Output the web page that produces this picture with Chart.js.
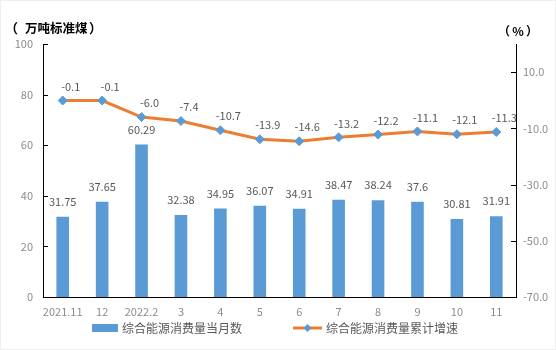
<!DOCTYPE html>
<html>
<head>
<meta charset="utf-8">
<script src="https://cdn.jsdelivr.net/npm/chart.js@4/dist/chart.umd.min.js"></script>
<style>
html,body{margin:0;padding:0;background:#fff;}
#wrap{width:556px;height:350px;position:relative;}
</style>
</head>
<body>
<div id="wrap"><canvas id="c" width="556" height="350"></canvas></div>
<script>
const categories = ['2021.11','12','2022.2','3','4','5','6','7','8','9','10','11'];
const monthlyConsumption = [31.75, 37.65, 60.29, 32.38, 34.95, 36.07, 34.91, 38.47, 38.24, 37.6, 30.81, 31.91];
const monthlyLabels = ['31.75','37.65','60.29','32.38','34.95','36.07','34.91','38.47','38.24','37.6','30.81','31.91'];
const cumulativeGrowth = [-0.1, -0.1, -6.0, -7.4, -10.7, -13.9, -14.6, -13.2, -12.2, -11.1, -12.1, -11.3];
const leftTicks = [0, 20, 40, 60, 80, 100];
const rightTicks = [-70, -50, -30, -10, 10];
const seriesNames = ['综合能源消费量当月数', '综合能源消费量累计增速'];
const leftUnit = '万吨标准煤';
const rightUnit = '%';

const BAR = '#5B9BD5', LINE = '#ED7D31';
const FONT = '"Noto Sans CJK SC", "Noto Sans", sans-serif';

const decor = {
  id: 'decor',
  beforeDraw(chart) {
    const ctx = chart.ctx;
    ctx.save();
    ctx.fillStyle = '#fff';
    ctx.fillRect(0, 0, chart.width, chart.height);
    ctx.strokeStyle = '#eeeeee';
    ctx.lineWidth = 1;
    ctx.strokeRect(0.5, 0.5, chart.width - 1, chart.height - 1);
    ctx.restore();
  },
  afterDraw(chart) {
    const ctx = chart.ctx;
    const ca = chart.chartArea;
    const ys = chart.scales.y, y1 = chart.scales.y1;
    ctx.save();
    // inward tick marks
    ctx.strokeStyle = '#000';
    ctx.lineWidth = 1;
    ys.ticks.forEach(t => {
      if (t.value === 0) return;
      const py = Math.round(ys.getPixelForValue(t.value)) + 0.5;
      ctx.beginPath(); ctx.moveTo(ca.left, py); ctx.lineTo(ca.left + 5, py); ctx.stroke();
    });
    y1.ticks.forEach(t => {
      if (t.value === -70) return;
      const py = Math.round(y1.getPixelForValue(t.value)) + 0.5;
      ctx.beginPath(); ctx.moveTo(ca.right, py); ctx.lineTo(ca.right - 5, py); ctx.stroke();
    });
    // unit titles
    ctx.fillStyle = '#000';
    ctx.textBaseline = 'middle';
    ctx.textAlign = 'left';
    ctx.font = 'bold 13px ' + FONT;
    ctx.fillText('（', 5, 28);
    ctx.fillText('）', 89, 28);
    ctx.font = 'bold 12.5px ' + FONT;
    ctx.fillText(leftUnit, 25, 28);
    ctx.font = 'bold 12px ' + FONT;
    ctx.fillText('（', 498, 31);
    ctx.textAlign = 'center';
    ctx.fillText(rightUnit, 518, 31);
    ctx.textAlign = 'left';
    ctx.fillText('）', 526, 31);
    // data labels
    ctx.font = '11px ' + FONT;
    ctx.fillStyle = '#595959';
    ctx.textAlign = 'center';
    const barMeta = chart.getDatasetMeta(0);
    barMeta.data.forEach((el, i) => {
      ctx.fillText(monthlyLabels[i], el.x, el.y - 15);
    });
    const lineMeta = chart.getDatasetMeta(1);
    lineMeta.data.forEach((el, i) => {
      ctx.fillText(cumulativeGrowth[i].toFixed(1), el.x + 8, el.y - 14);
    });
    // legend
    const ly = 328;
    ctx.fillStyle = BAR;
    ctx.fillRect(92, ly - 4, 26, 8);
    ctx.fillStyle = '#595959';
    ctx.font = '12px ' + FONT;
    ctx.textAlign = 'left';
    ctx.fillText(seriesNames[0], 122, ly);
    ctx.strokeStyle = LINE;
    ctx.lineWidth = 3;
    ctx.beginPath(); ctx.moveTo(293, ly); ctx.lineTo(322, ly); ctx.stroke();
    ctx.fillStyle = BAR;
    ctx.beginPath();
    ctx.moveTo(307.5, ly - 4); ctx.lineTo(311.5, ly); ctx.lineTo(307.5, ly + 4); ctx.lineTo(303.5, ly); ctx.closePath();
    ctx.fill();
    ctx.fillStyle = '#595959';
    ctx.fillText(seriesNames[1], 326, ly);
    ctx.restore();
  }
};

new Chart(document.getElementById('c'), {
  data: {
    labels: categories,
    datasets: [
      {
        type: 'bar',
        label: seriesNames[0],
        data: monthlyConsumption,
        backgroundColor: BAR,
        yAxisID: 'y',
        barPercentage: 0.32,
        categoryPercentage: 1.0,
        order: 2
      },
      {
        type: 'line',
        label: seriesNames[1],
        data: cumulativeGrowth,
        borderColor: LINE,
        borderWidth: 3,
        pointStyle: 'rectRot',
        pointRadius: 4.5,
        pointBackgroundColor: BAR,
        pointBorderColor: BAR,
        pointBorderWidth: 1,
        tension: 0,
        yAxisID: 'y1',
        order: 1
      }
    ]
  },
  options: {
    responsive: false,
    animation: false,
    devicePixelRatio: 1,
    layout: { padding: { top: 44, right: 0, left: 0, bottom: 0 } },
    plugins: { legend: { display: false }, tooltip: { enabled: false } },
    scales: {
      x: {
        grid: { display: false, drawTicks: false },
        border: { display: true, color: '#000', width: 1 },
        ticks: { color: '#8c8c8c', font: { family: FONT, size: 11 }, padding: 8, maxRotation: 0, autoSkip: false },
        afterFit(s) { s.height = 53; }
      },
      y: {
        position: 'left',
        min: 0, max: 100,
        grid: { display: false, drawTicks: false },
        border: { display: true, color: '#000', width: 1 },
        ticks: { stepSize: 20, color: '#8c8c8c', font: { family: FONT, size: 11 }, padding: 10 },
        afterBuildTicks(s) { s.ticks = leftTicks.map(v => ({ value: v })); },
        afterFit(s) { s.width = 43; }
      },
      y1: {
        position: 'right',
        min: -70, max: 20,
        grid: { display: false, drawTicks: false },
        border: { display: true, color: '#000', width: 1 },
        ticks: { stepSize: 20, color: '#8c8c8c', font: { family: FONT, size: 11 }, padding: 7,
                 callback: v => Number(v).toFixed(1) },
        afterBuildTicks(s) { s.ticks = rightTicks.map(v => ({ value: v })); },
        afterFit(s) { s.width = 40; }
      }
    }
  },
  plugins: [decor]
});
</script>
</body>
</html>
